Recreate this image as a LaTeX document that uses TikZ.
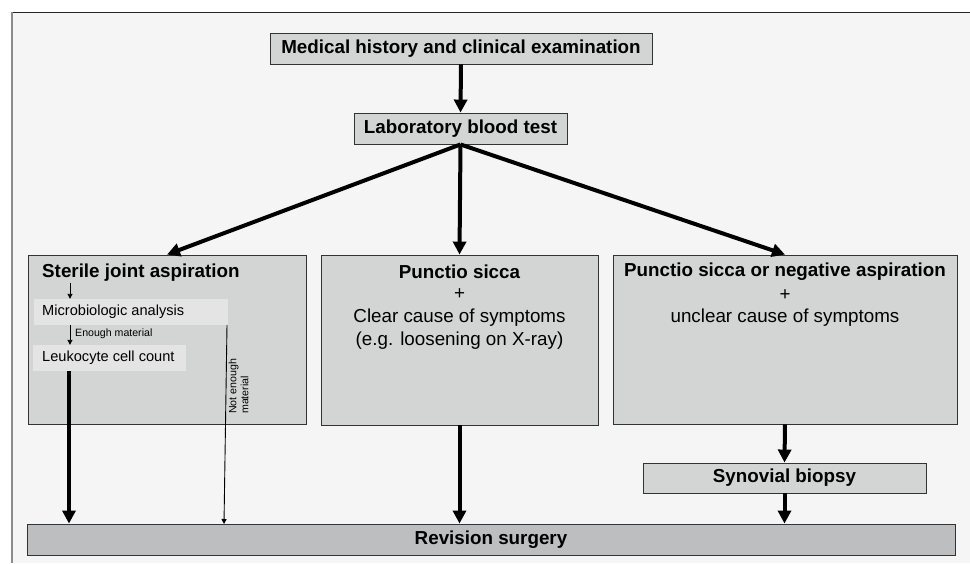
\documentclass[tikz,border=0pt]{standalone}
\usepackage{fontspec}
\setmainfont{Liberation Sans}
\usetikzlibrary{arrows.meta,calc}
\definecolor{bgc}{HTML}{F4F5F4}
\definecolor{boxc}{HTML}{D3D4D4}
\definecolor{subc}{HTML}{E4E4E4}
\definecolor{revc}{HTML}{BDBEC0}
\definecolor{edgec}{HTML}{333333}
\tikzset{
  box/.style={draw=edgec, line width=0.9pt, fill=boxc, inner sep=0pt, anchor=center},
  subbox/.style={fill=subc, draw=none, inner sep=0pt},
  big/.style={font=\fontsize{18.8}{23}\selectfont\bfseries},
  reg/.style={font=\fontsize{18.8}{23}\selectfont},
  mid/.style={font=\fontsize{14.6}{17}\selectfont},
  tiny/.style={font=\fontsize{10.6}{12}\selectfont},
  thickarrow/.style={line width=4pt, -{Triangle[length=13pt,width=13pt]}},
  thinarrow/.style={line width=0.9pt, -{Triangle[length=5pt,width=5pt]}},
}
\begin{document}
\begin{tikzpicture}[x=1pt,y=-1pt]
\useasboundingbox (0,0) rectangle (970,563);
\fill[white] (0,0) rectangle (970,563);
\fill[bgc] (12,12) rectangle (970,563);
\draw[black!85, line width=1pt] (12,12) -- (970,12);
\draw[black!45, line width=1.2pt] (12,12) -- (12,563);

% boxes
\node[box, minimum width=382pt, minimum height=31pt, big] (top) at (461,48.5) {Medical history and clinical examination};
\node[box, minimum width=213pt, minimum height=31pt, big] (lab) at (460.5,128.5) {Laboratory blood test};
\node[box, minimum width=278pt, minimum height=169pt] (left) at (167,339.5) {};
\node[box, minimum width=277pt, minimum height=170pt] (midb) at (459.5,340) {};
\node[box, minimum width=344pt, minimum height=169pt] (right) at (785,339.5) {};
\node[box, minimum width=283pt, minimum height=30pt, big] (syn) at (784.5,478) {Synovial biopsy};
\node[box, fill=revc, minimum width=928pt, minimum height=31pt, big] (rev) at (491,539.5) {Revision surgery};

% left box contents
\node[big, anchor=west, inner sep=0pt] (sja) at (42,273) {Sterile joint aspiration};
\node[subbox, minimum width=194pt, minimum height=26pt] (micro) at (131,312) {};
\node[mid, anchor=west, inner sep=0pt] (microt) at (42,312) {Microbiologic analysis};
\node[subbox, minimum width=153pt, minimum height=26pt] (leuko) at (109.5,358) {};
\node[mid, anchor=west, inner sep=0pt] (leukot) at (42,358) {Leukocyte cell count};
\node[tiny, anchor=west, inner sep=0pt] (enough) at (75,333.5) {Enough material};
\node[tiny, rotate=90, anchor=north west, inner sep=0pt, align=left] (notenough) at (228.5,414) {Not enough\\material};

% middle and right box texts
\node[big, inner sep=0pt] (m1) at (459.5,272) {Punctio sicca};
\node[reg, inner sep=0pt] (m2) at (459.5,294) {+};
\node[reg, inner sep=0pt] (m3) at (459.5,318) {Clear cause of symptoms};
\node[reg, inner sep=0pt] (m4) at (459.5,341) {(e.g. loosening on X-ray)};
\node[big, inner sep=0pt] (r1) at (785,272) {Punctio sicca or negative aspiration};
\node[reg, inner sep=0pt] (r2) at (785,295) {+};
\node[reg, inner sep=0pt] (r3) at (785,318) {unclear cause of symptoms};

% coordinates
\coordinate (s1) at (70,283);
\coordinate (lkout) at (69,371);
\coordinate (ne1) at (227,325);
\coordinate (ne2) at (224,524);

% connectors
\draw[thickarrow] (top.south) -- (lab.north);
\draw[thickarrow] (lab.south) -- (left.north);
\draw[thickarrow] (lab.south) -- (midb.north);
\draw[thickarrow] (lab.south) -- (right.north);
\draw[thinarrow] (s1) -- (s1 |- micro.north);
\draw[thinarrow] (s1 |- micro.south) -- (s1 |- leuko.north);
\draw[thickarrow] (lkout) -- (lkout |- rev.north);
\draw[line width=0.9pt, -{Triangle[length=5pt,width=5pt]}] (ne1) -- (ne2);
\draw[thickarrow] (midb.south) -- (midb.south |- rev.north);
\draw[thickarrow] (right.south) -- (syn.north);
\draw[thickarrow] (syn.south) -- (syn.south |- rev.north);
\end{tikzpicture}
\end{document}
